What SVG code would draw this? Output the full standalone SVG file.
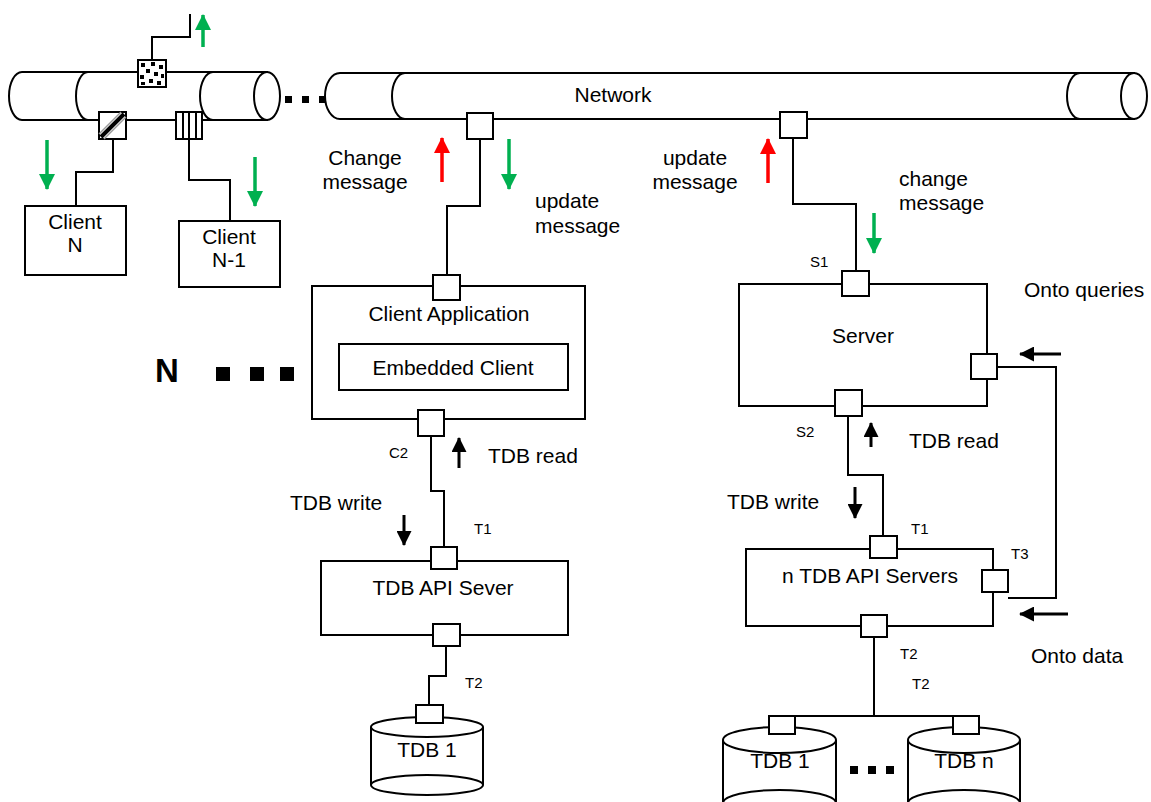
<svg xmlns="http://www.w3.org/2000/svg" width="1151" height="802" viewBox="0 0 1151 802">
<defs>
<style>
.ln{fill:none;stroke:#000;stroke-width:2}
.bx{fill:#fff;stroke:#000;stroke-width:2}
.pt{fill:#fff;stroke:#000;stroke-width:2}
.t{font-family:"Liberation Sans",Arial,sans-serif;font-size:21px;fill:#000}
.s{font-family:"Liberation Sans",Arial,sans-serif;font-size:15px;fill:#000}
.ga{stroke:#00b050;stroke-width:3.5;fill:none}
.ra{stroke:#ff0000;stroke-width:3.5;fill:none}
.ka{stroke:#000;stroke-width:3;fill:none}
.dt{fill:#000}
</style>
<marker id="mg" viewBox="0 0 16 16" refX="15" refY="8" markerWidth="16" markerHeight="16" markerUnits="userSpaceOnUse" orient="auto"><path d="M0,0 L16,8 L0,16 z" fill="#00b050"/></marker>
<marker id="mr" viewBox="0 0 16 16" refX="15" refY="8" markerWidth="16" markerHeight="16" markerUnits="userSpaceOnUse" orient="auto"><path d="M0,0 L16,8 L0,16 z" fill="#ff0000"/></marker>
<marker id="mk" viewBox="0 0 16 16" refX="15" refY="8" markerWidth="15" markerHeight="15" markerUnits="userSpaceOnUse" orient="auto"><path d="M0,0 L16,8 L0,16 z" fill="#000"/></marker>
</defs>

<g id="connectors">
<path class="ln" d="M152,60 V37 H190 V14"/>
<path class="ln" d="M113,139 V172 H76 V206"/>
<path class="ln" d="M189,139 V180 H230 V221"/>
<path class="ln" d="M480,139 V206 H447 V275"/>
<path class="ln" d="M793,138 V204 H856 V271"/>
<path class="ln" d="M431,436 V491 H444 V547"/>
<path class="ln" d="M446,646 V676 H429 V705"/>
<path class="ln" d="M848,416 V475 H883 V536"/>
<path class="ln" d="M997,367 H1056 V598 H1008"/>
<path class="ln" d="M874,637 V716 M769,716 H979"/>
</g>

<g id="arrows">
<line class="ga" x1="203" y1="47" x2="203" y2="15" marker-end="url(#mg)"/>
<line class="ga" x1="47" y1="140" x2="47" y2="189" marker-end="url(#mg)"/>
<line class="ga" x1="255" y1="157" x2="255" y2="206" marker-end="url(#mg)"/>
<line class="ga" x1="509" y1="139" x2="509" y2="189" marker-end="url(#mg)"/>
<line class="ga" x1="874" y1="213" x2="874" y2="253" marker-end="url(#mg)"/>
<line class="ra" x1="442" y1="182" x2="442" y2="138" marker-end="url(#mr)"/>
<line class="ra" x1="768" y1="183" x2="768" y2="139" marker-end="url(#mr)"/>
<line class="ka" x1="459" y1="468" x2="459" y2="438" marker-end="url(#mk)"/>
<line class="ka" x1="404" y1="515" x2="404" y2="545" marker-end="url(#mk)"/>
<line class="ka" x1="871" y1="447" x2="871" y2="423" marker-end="url(#mk)"/>
<line class="ka" x1="855" y1="487" x2="855" y2="518" marker-end="url(#mk)"/>
<line class="ka" x1="1061" y1="354" x2="1020" y2="354" marker-end="url(#mk)"/>
<line class="ka" x1="1068" y1="614" x2="1020" y2="614" marker-end="url(#mk)"/>
</g>

<g id="left-pipe">
<path class="bx" d="M22,72 H267 V120 H22 A13,24 0 0 1 22,72 z"/>
<path class="ln" d="M88,72 A12,24 0 0 0 88,120"/>
<path class="ln" d="M213,72 A13,24 0 0 0 213,120"/>
<ellipse class="bx" cx="267" cy="96" rx="13" ry="24"/>
</g>

<g id="pipe-dots">
<rect x="285" y="96" width="7" height="7" fill="#000"/>
<rect x="302" y="96" width="7" height="7" fill="#000"/>
<rect x="319" y="96" width="7" height="7" fill="#000"/>
</g>

<g id="network">
<path class="bx" d="M340,73 H1134 V119 H340 A15,23 0 0 1 340,73 z"/>
<path class="ln" d="M405,73 A13,23 0 0 0 405,119"/>
<path class="ln" d="M1080,73 A13,23 0 0 0 1080,119"/>
<ellipse class="bx" cx="1134" cy="96" rx="13" ry="23"/>
<text class="t" x="613" y="102" text-anchor="middle">Network</text>
</g>

<g id="port-dotted">
<rect class="pt" x="138" y="60" width="28" height="27"/>
<rect class="dt" x="141" y="63" width="4" height="4"/>
<rect class="dt" x="151" y="62" width="4" height="4"/>
<rect class="dt" x="159" y="65" width="4" height="4"/>
<rect class="dt" x="146" y="69" width="4" height="4"/>
<rect class="dt" x="154" y="72" width="4" height="4"/>
<rect class="dt" x="140" y="75" width="4" height="4"/>
<rect class="dt" x="161" y="74" width="3" height="4"/>
<rect class="dt" x="149" y="79" width="4" height="4"/>
<rect class="dt" x="157" y="81" width="4" height="4"/>
<rect class="dt" x="141" y="82" width="4" height="3"/>
</g>
<g id="port-hatched">
<rect class="pt" x="99" y="112" width="27" height="27"/>
<line x1="101" y1="137" x2="124" y2="114" stroke="#000" stroke-width="4"/>
<line x1="104" y1="139" x2="126" y2="117" stroke="#999" stroke-width="1.5"/>
<line x1="99" y1="134" x2="121" y2="112" stroke="#999" stroke-width="1.5"/>
</g>
<g id="port-striped">
<rect class="pt" x="176" y="112" width="26" height="27"/>
<path class="ln" d="M183,112 V139 M189,112 V139 M196,112 V139"/>
</g>

<g id="client-n">
<rect class="bx" x="25" y="206" width="101" height="69"/>
<text class="t" x="75" y="229" text-anchor="middle">Client</text>
<text class="t" x="75" y="252" text-anchor="middle">N</text>
</g>
<g id="client-n-1">
<rect class="bx" x="179" y="221" width="101" height="66"/>
<text class="t" x="229" y="244" text-anchor="middle">Client</text>
<text class="t" x="229" y="267" text-anchor="middle">N-1</text>
</g>

<g id="net-port-1"><rect class="pt" x="467" y="113" width="26" height="26"/></g>
<g id="net-port-2"><rect class="pt" x="780" y="112" width="27" height="26"/></g>

<g id="msg-labels">
<text class="t" x="365" y="165" text-anchor="middle">Change</text>
<text class="t" x="365" y="189" text-anchor="middle">message</text>
<text class="t" x="535" y="208">update</text>
<text class="t" x="535" y="233">message</text>
<text class="t" x="695" y="165" text-anchor="middle">update</text>
<text class="t" x="695" y="189" text-anchor="middle">message</text>
<text class="t" x="899" y="186">change</text>
<text class="t" x="899" y="210">message</text>
</g>

<g id="client-application">
<rect class="bx" x="312" y="286" width="273" height="133"/>
<text class="t" x="449" y="321" text-anchor="middle">Client Application</text>
<rect class="pt" x="433" y="275" width="27" height="25"/>
<rect class="pt" x="418" y="410" width="26" height="26"/>
<text class="s" x="389" y="458">C2</text>
</g>
<g id="embedded-client">
<rect class="bx" x="339" y="344" width="229" height="46"/>
<text class="t" x="453" y="375" text-anchor="middle">Embedded Client</text>
</g>

<g id="n-dots">
<text x="155" y="382" font-family="'Liberation Sans',Arial,sans-serif" font-size="33" font-weight="bold">N</text>
<rect x="216" y="367" width="14" height="14" fill="#000"/>
<rect x="250" y="367" width="14" height="14" fill="#000"/>
<rect x="280" y="367" width="14" height="14" fill="#000"/>
</g>

<g id="left-tdb-labels">
<text class="t" x="488" y="463">TDB read</text>
<text class="t" x="290" y="510">TDB write</text>
<text class="s" x="474" y="534">T1</text>
<text class="s" x="465" y="688">T2</text>
</g>

<g id="tdb-api-sever">
<rect class="bx" x="321" y="561" width="247" height="74"/>
<text class="t" x="443" y="595" text-anchor="middle">TDB API Sever</text>
<rect class="pt" x="431" y="547" width="26" height="22"/>
<rect class="pt" x="433" y="624" width="27" height="22"/>
</g>

<g id="tdb1-left">
<path class="bx" d="M371,727 V785 A56,10 0 0 0 483,785 V727"/>
<ellipse class="bx" cx="427" cy="727" rx="56" ry="10"/>
<path class="ln" d="M371,785 A56,10 0 0 1 483,785"/>
<rect class="pt" x="416" y="705" width="27" height="18"/>
<text class="t" x="427" y="757" text-anchor="middle">TDB 1</text>
</g>

<g id="server">
<rect class="bx" x="739" y="284" width="248" height="122"/>
<text class="t" x="863" y="343" text-anchor="middle">Server</text>
<rect class="pt" x="842" y="271" width="27" height="25"/>
<rect class="pt" x="971" y="354" width="26" height="25"/>
<rect class="pt" x="835" y="390" width="27" height="26"/>
<text class="s" x="810" y="267">S1</text>
<text class="s" x="796" y="437">S2</text>
</g>

<g id="right-labels">
<text class="t" x="1024" y="297">Onto queries</text>
<text class="t" x="909" y="448">TDB read</text>
<text class="t" x="727" y="509">TDB write</text>
<text class="t" x="1031" y="663">Onto data</text>
<text class="s" x="911" y="534">T1</text>
<text class="s" x="1011" y="559">T3</text>
<text class="s" x="900" y="659">T2</text>
<text class="s" x="912" y="689">T2</text>
</g>

<g id="n-tdb-api-servers">
<rect class="bx" x="746" y="549" width="247" height="77"/>
<text class="t" x="870" y="583" text-anchor="middle">n TDB API Servers</text>
<rect class="pt" x="870" y="536" width="27" height="22"/>
<rect class="pt" x="982" y="570" width="26" height="22"/>
<rect class="pt" x="861" y="615" width="26" height="22"/>
</g>

<g id="tdb1-right">
<path class="bx" d="M723,740 V803 A56,13 0 0 0 836,803 V740"/>
<ellipse class="bx" cx="779.5" cy="740" rx="56.5" ry="13"/>
<path class="ln" d="M723,803 A56.5,13 0 0 1 836,803"/>
<rect class="pt" x="769" y="716" width="26" height="18"/>
<text class="t" x="780" y="768" text-anchor="middle">TDB 1</text>
</g>
<g id="tdbn-right">
<path class="bx" d="M908,740 V803 A56,13 0 0 0 1020,803 V740"/>
<ellipse class="bx" cx="964" cy="740" rx="56" ry="13"/>
<path class="ln" d="M908,803 A56,13 0 0 1 1020,803"/>
<rect class="pt" x="953" y="716" width="26" height="18"/>
<text class="t" x="964" y="768" text-anchor="middle">TDB n</text>
</g>
<g id="db-dots">
<rect x="850" y="766" width="8" height="8" fill="#000"/>
<rect x="868" y="766" width="8" height="8" fill="#000"/>
<rect x="886" y="766" width="8" height="8" fill="#000"/>
</g>
</svg>
